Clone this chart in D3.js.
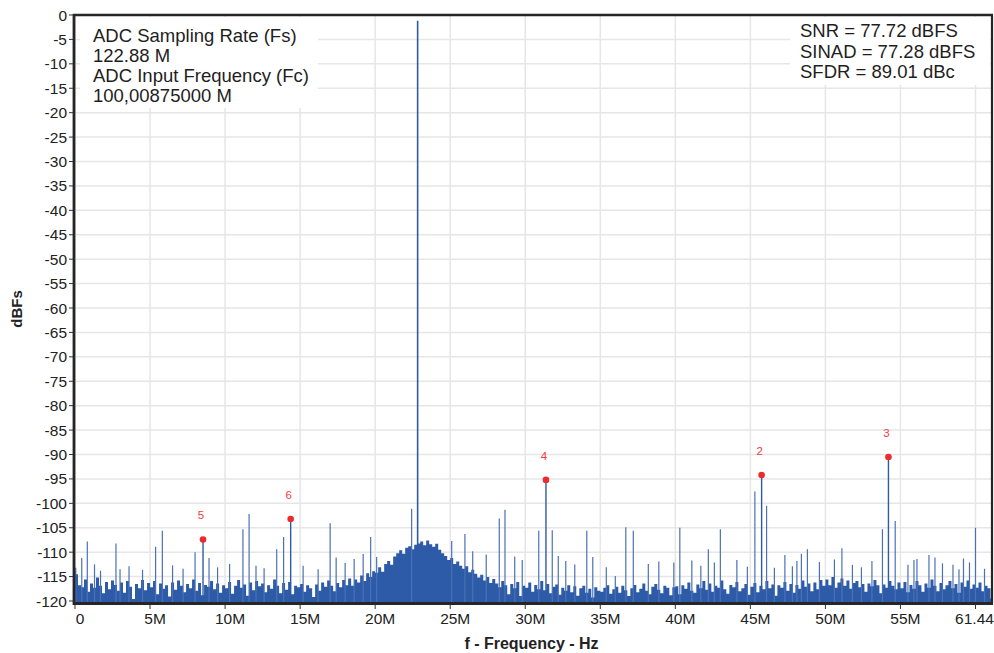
<!DOCTYPE html>
<html>
<head>
<meta charset="utf-8">
<script src="https://cdn.jsdelivr.net/npm/d3@7"></script>
<style>
    body { margin: 0; background: #fff; }
    text { font-family: "Liberation Sans", Arial, sans-serif; }
</style>
</head>
<body>
<svg id="chart" width="994" height="653"></svg>
<script>

// FFT bins, 0.2 MHz apart, starting at 0 Hz (dBFS)
const binStep = 0.2
const noiseFloor = [
    -114.5, -116.8, -117.2, -115.6, -118.1, -116.4, -117.3, -115.2, -116.9, -118.4, -116.1, -117.6, -115.8, -116.7, -117.9, -116.2, -118.3, -115.9, -117.1, -119.6, -116.5, -117.4, -115.7, -117.8, -116.3,
    -117.2, -115.9, -118.6, -116.4, -117.5, -116.8, -119.1, -116.2, -117.7, -115.8, -116.9, -118.2, -116.5, -117.4, -115.6, -117.9, -116.3, -118.8, -116.7, -117.1, -115.9, -117.6, -116.4, -118.3, -116.8,
    -117.4, -116.1, -118.5, -116.9, -115.7, -117.3, -116.6, -118.9, -116.2, -117.8, -115.9, -117.0, -116.4, -118.2, -116.8, -117.5, -115.6, -116.9, -118.4, -116.3, -117.7, -116.1, -118.6, -116.9, -117.2,
    -116.5, -118.1, -116.8, -117.4, -119.2, -116.6, -117.9, -116.2, -117.1, -115.8, -116.9, -118.0, -116.3, -117.2, -115.7, -116.8, -115.4, -116.9, -115.6, -116.2, -114.8, -115.9, -114.3, -115.1, -113.9,
    -114.2, -113.1, -114.0, -112.4, -111.8, -112.6, -110.9, -110.2, -109.6, -110.3, -109.1, -108.8, -109.4, -108.5, -108.2, -107.8, -108.6, -107.6, -108.4, -108.9, -108.3, -109.5, -110.2, -110.8, -111.6,
    -111.2, -112.4, -111.9, -112.8, -113.4, -112.9, -114.1, -113.6, -114.4, -115.2, -114.6, -115.8, -115.1, -116.3, -115.5, -116.4, -117.2, -115.9, -116.8, -118.6, -116.5, -117.4, -116.1, -119.0, -116.9,
    -117.3, -116.2, -118.1, -116.7, -117.6, -115.9, -117.8, -116.5, -118.4, -117.1, -116.6, -118.7, -117.3, -117.9, -116.8, -118.2, -117.0, -118.9, -117.4, -116.9, -118.3, -117.5, -119.3, -117.2, -117.9,
    -118.1, -117.3, -116.8, -118.5, -117.6, -117.1, -118.3, -116.9, -117.8, -119.0, -117.4, -116.7, -118.2, -117.5, -116.4, -117.9, -118.6, -117.1, -116.5, -117.7, -118.4, -116.9, -117.3, -118.8, -117.2,
    -117.0, -118.6, -116.8, -117.5, -116.2, -117.9, -118.3, -116.6, -117.4, -115.9, -117.7, -116.4, -118.1, -116.9, -117.3, -115.8, -117.6, -118.5, -116.7, -117.2, -116.1, -118.0, -117.4, -116.5, -118.7,
    -117.1, -116.3, -118.2, -116.9, -117.6, -115.9, -117.4, -116.6, -118.9, -116.8, -117.3, -116.1, -117.9, -116.5, -118.3, -116.7, -117.5, -115.8, -117.1, -116.4, -118.0, -116.2, -117.6, -115.7, -116.9,
    -115.6, -116.8, -115.1, -117.3, -116.2, -115.4, -116.9, -115.8, -117.5, -116.3, -115.9, -117.2, -116.5, -118.1, -116.4, -117.0, -115.7, -116.8, -118.4, -116.6, -117.3, -115.9, -116.9, -117.6, -116.2,
    -117.4, -116.1, -118.2, -116.7, -117.5, -115.9, -116.8, -118.1, -116.4, -117.3, -115.6, -116.9, -118.0, -116.3, -117.6, -116.8, -115.9, -117.4, -116.5, -118.3, -116.2, -117.1, -115.8, -117.5, -116.6,
    -117.3, -116.2, -118.0, -116.9, -117.4, -119.5
]

// spurs and noise spikes: [MHz, dBFS]
const spurs = [
    [0.05, -113.2], [0.45, -111.2], [0.82, -107.8], [1.3, -112.5], [1.7, -113.8], [2.73, -108.2], [3.0, -113.5],
    [3.6, -112.9], [4.5, -113.6], [5.37, -108.9], [5.82, -105.6], [6.5, -112.7], [7.2, -113.4], [8.0, -110.0],
    [8.93, -111.2], [9.5, -113.1], [10.3, -112.4], [11.19, -105.3], [11.6, -102.2], [12.06, -112.8], [12.6, -113.3],
    [13.44, -109.4], [13.9, -106.9], [15.2, -112.8], [16.2, -113.5], [17.0, -104.1], [17.4, -111.1], [18.0, -112.2],
    [18.6, -111.4], [19.2, -110.4], [19.7, -106.9], [20.1, -111.0], [22.43, -101.1], [25.1, -107.7], [25.98, -106.3],
    [26.5, -109.8], [27.4, -110.5], [28.27, -103.1], [28.65, -101.3], [29.3, -110.9], [29.8, -111.6], [30.9, -105.6],
    [31.8, -105.5], [32.2, -110.8], [32.7, -111.8], [33.3, -112.5], [34.1, -105.6], [34.5, -111.0], [35.4, -113.1],
    [36.0, -114.9], [36.7, -104.9], [37.2, -105.6], [38.2, -112.4], [38.9, -111.9], [39.9, -112.1], [40.3, -105.0],
    [41.1, -111.7], [41.7, -112.8], [42.2, -109.4], [42.6, -112.1], [43.0, -105.3], [44.1, -111.6], [44.8, -113.0],
    [45.3, -97.6], [46.08, -100.5], [46.6, -113.2], [47.3, -110.6], [47.8, -112.9], [48.1, -111.8], [48.4, -110.3],
    [48.8, -109.4], [49.6, -112.0], [50.6, -111.5], [51.1, -109.2], [51.8, -112.6], [52.4, -113.1], [53.1, -111.8],
    [53.8, -105.3], [54.65, -103.6], [55.5, -112.6], [55.9, -111.6], [56.1, -111.4], [56.9, -110.6], [57.3, -111.1],
    [57.8, -112.3], [58.5, -112.6], [58.9, -113.5], [59.2, -111.3], [59.6, -112.1], [60.0, -105.0], [60.6, -113.4]
]

const toneFreq = 22.83
const toneLevel = -1.2

const harmonicLabels = ["2", "3", "4", "5", "6"]
const harmonicFreqs = [45.75, 54.2, 31.38, 8.53, 14.37]
const harmonicLevels = [-94.2, -90.5, -95.2, -107.4, -103.2]

const yTicks = [0, -5, -10, -15, -20, -25, -30, -35, -40, -45, -50, -55, -60, -65, -70, -75, -80, -85, -90, -95, -100, -105, -110, -115, -120]
const xTicks = [0, 5, 10, 15, 20, 25, 30, 35, 40, 45, 50, 55, 60]
const xTickLabels = ["0", "5M", "10M", "15M", "20M", "25M", "30M", "35M", "40M", "45M", "50M", "55M", "61.44"]

const infoLeft = ["ADC Sampling Rate (Fs)", "122.88 M", "ADC Input Frequency (Fc)", "100,00875000 M"]
const infoRight = ["SNR = 77.72 dBFS", "SINAD = 77.28 dBFS", "SFDR = 89.01 dBc"]

const plotLeft = 75, plotRight = 992, plotTop = 15, plotBottom = 603
const specColor = "#2e5ba8"

const svg = d3.select("#chart")

const x = d3.scaleLinear().domain([0, 61.1]).range([plotLeft, plotRight])
const y = d3.scaleLinear().domain([-120, 0]).range([601, plotTop])

svg.append("clipPath").attr("id", "plot-clip")
    .append("rect")
    .attr("x", plotLeft).attr("y", plotTop)
    .attr("width", plotRight - plotLeft).attr("height", plotBottom - plotTop)

// grid
const grid = svg.append("g").attr("stroke", "#e6e6e6").attr("stroke-width", 1.5)
grid.selectAll("line.h")
    .data(yTicks)
    .join("line")
    .attr("class", "h")
    .attr("x1", plotLeft).attr("x2", plotRight)
    .attr("y1", d => y(d)).attr("y2", d => y(d))
grid.selectAll("line.v")
    .data(xTicks)
    .join("line")
    .attr("class", "v")
    .attr("x1", d => x(d)).attr("x2", d => x(d))
    .attr("y1", plotTop).attr("y2", plotBottom)

// info boxes
svg.append("rect").attr("x", 80).attr("y", 17).attr("width", 238).attr("height", 91).attr("fill", "#fff")
svg.append("rect").attr("x", 790).attr("y", 17).attr("width", 200).attr("height", 68).attr("fill", "#fff")

svg.append("g")
    .selectAll("text")
    .data(infoLeft)
    .join("text")
    .attr("x", 93)
    .attr("y", (d, i) => 41.7 + i * 20.2)
    .attr("font-size", 18.5)
    .attr("fill", "#1e1e1e")
    .text(d => d)

svg.append("g")
    .selectAll("text")
    .data(infoRight)
    .join("text")
    .attr("x", 800)
    .attr("y", (d, i) => 37.3 + i * 20.5)
    .attr("font-size", 18.5)
    .attr("fill", "#1e1e1e")
    .text(d => d)

// spectrum
const spec = svg.append("g").attr("clip-path", "url(#plot-clip)")

// last bin repeated so the step area closes on its right edge
const floorArea = d3.area()
    .curve(d3.curveStepAfter)
    .x((d, i) => x(i * binStep))
    .y0(plotBottom)
    .y1(d => y(d))

spec.append("path")
    .datum(noiseFloor.concat(noiseFloor.slice(-1)))
    .attr("d", floorArea)
    .attr("fill", specColor)

spec.append("g")
    .selectAll("line")
    .data(spurs)
    .join("line")
    .attr("x1", d => x(d[0])).attr("x2", d => x(d[0]))
    .attr("y1", plotBottom).attr("y2", d => y(d[1]))
    .attr("stroke", "#4a71b6")
    .attr("stroke-width", 1.2)

spec.append("line")
    .attr("x1", x(toneFreq)).attr("x2", x(toneFreq))
    .attr("y1", plotBottom).attr("y2", y(toneLevel))
    .attr("stroke", specColor)
    .attr("stroke-width", 1.6)

const harm = svg.append("g")
harm.selectAll("line")
    .data(harmonicFreqs)
    .join("line")
    .attr("x1", d => x(d)).attr("x2", d => x(d))
    .attr("y1", plotBottom).attr("y2", (d, i) => y(harmonicLevels[i]))
    .attr("stroke", specColor)
    .attr("stroke-width", 1.4)
harm.selectAll("circle")
    .data(harmonicFreqs)
    .join("circle")
    .attr("cx", d => x(d))
    .attr("cy", (d, i) => y(harmonicLevels[i]))
    .attr("r", 3.3)
    .attr("fill", "#ee2a2a")
harm.selectAll("text")
    .data(harmonicFreqs)
    .join("text")
    .attr("x", d => x(d) - 2)
    .attr("y", (d, i) => y(harmonicLevels[i]) - 20)
    .attr("text-anchor", "middle")
    .attr("font-size", 11.5)
    .attr("fill", "#f03c3c")
    .text((d, i) => harmonicLabels[i])

// frame
const frame = svg.append("g").attr("stroke", "#262626")
frame.append("line").attr("x1", 73).attr("x2", 993).attr("y1", plotTop).attr("y2", plotTop).attr("stroke-width", 2.5)
frame.append("line").attr("x1", plotRight).attr("x2", plotRight).attr("y1", plotTop).attr("y2", plotBottom).attr("stroke-width", 2.2)
frame.append("line").attr("x1", 74).attr("x2", 74).attr("y1", 14).attr("y2", 605).attr("stroke-width", 2.8)
frame.append("line").attr("x1", 73).attr("x2", 993).attr("y1", plotBottom + 0.5).attr("y2", plotBottom + 0.5).attr("stroke-width", 3)

// y axis
const yAxis = svg.append("g")
yAxis.selectAll("line")
    .data(yTicks)
    .join("line")
    .attr("x1", 69).attr("x2", 73)
    .attr("y1", d => y(d)).attr("y2", d => y(d))
    .attr("stroke", "#333")
yAxis.selectAll("text")
    .data(yTicks)
    .join("text")
    .attr("x", 67)
    .attr("y", d => y(d))
    .attr("dy", "0.36em")
    .attr("text-anchor", "end")
    .attr("font-size", 15.5)
    .attr("fill", "#222")
    .text(d => d)

// x axis
const xAxis = svg.append("g")
xAxis.selectAll("line")
    .data(xTicks)
    .join("line")
    .attr("x1", d => x(d)).attr("x2", d => x(d))
    .attr("y1", plotBottom + 2).attr("y2", plotBottom + 6)
    .attr("stroke", "#333")
xAxis.selectAll("text")
    .data(xTicks)
    .join("text")
    .attr("x", (d, i) => x(d) + (i < xTicks.length - 1 ? 5 : -1))
    .attr("y", 623.5)
    .attr("text-anchor", "middle")
    .attr("font-size", 15.5)
    .attr("fill", "#222")
    .text((d, i) => xTickLabels[i])

svg.append("text")
    .attr("transform", `translate(22,${(plotTop + plotBottom) / 2}) rotate(-90)`)
    .attr("text-anchor", "middle")
    .attr("font-size", 15)
    .attr("font-weight", "bold")
    .attr("fill", "#222")
    .text("dBFs")

svg.append("text")
    .attr("x", (plotLeft + plotRight) / 2 - 2)
    .attr("y", 648.5)
    .attr("text-anchor", "middle")
    .attr("font-size", 16)
    .attr("font-weight", "bold")
    .attr("fill", "#222")
    .text("f - Frequency - Hz")

</script>
</body>
</html>
